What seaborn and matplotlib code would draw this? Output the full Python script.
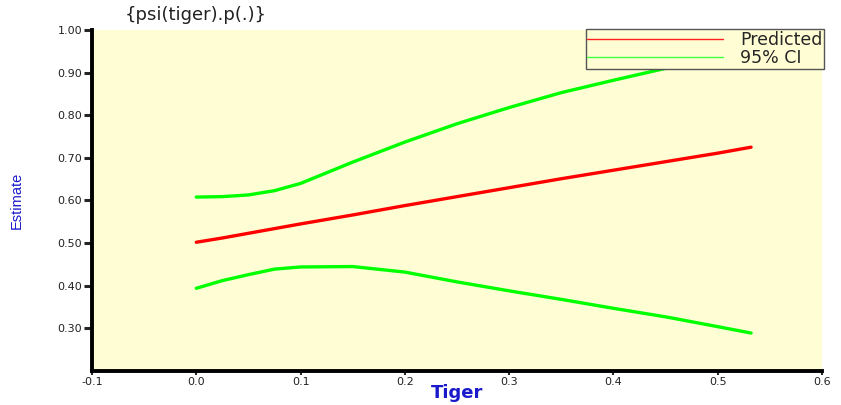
import matplotlib
matplotlib.use('Agg')
import matplotlib.pyplot as plt
from matplotlib.lines import Line2D
import pandas as pd
import seaborn as sns

# values
tiger = [0.0, 0.025, 0.05, 0.075, 0.1, 0.15, 0.2, 0.25, 0.3, 0.35, 0.4, 0.45, 0.5, 0.532]
predicted = [0.502, 0.512, 0.523, 0.534, 0.545, 0.566, 0.588, 0.609, 0.630, 0.651, 0.671, 0.691, 0.711, 0.725]
ci_upper = [0.608, 0.609, 0.613, 0.623, 0.640, 0.690, 0.737, 0.780, 0.818, 0.853, 0.882, 0.910, 0.932, 0.944]
ci_lower = [0.394, 0.412, 0.426, 0.439, 0.444, 0.445, 0.432, 0.409, 0.388, 0.368, 0.347, 0.327, 0.304, 0.289]

x_ticks = [-0.1, 0.0, 0.1, 0.2, 0.3, 0.4, 0.5, 0.6]
y_ticks = [0.3, 0.4, 0.5, 0.6, 0.7, 0.8, 0.9, 1.0]

df = pd.DataFrame({'Tiger': tiger, 'Predicted': predicted,
                   'Upper': ci_upper, 'Lower': ci_lower})

sns.set_style('white')
plt.rcParams['font.family'] = ['DejaVu Sans']

bg = '#FEFDD3'
fig = plt.figure(figsize=(8.41, 4.05), dpi=100)
ax = fig.add_axes([0.1094, 0.084, 0.868, 0.842])
ax.set_facecolor(bg)

sns.lineplot(data=df, x='Tiger', y='Upper', color='#00FF00', lw=2.4, ax=ax)
sns.lineplot(data=df, x='Tiger', y='Lower', color='#00FF00', lw=2.4, ax=ax)
sns.lineplot(data=df, x='Tiger', y='Predicted', color='#FF0000', lw=2.4, ax=ax)

ax.set_xlim(-0.1, 0.6)
ax.set_ylim(0.2, 1.0)
ax.set_xticks(x_ticks)
ax.set_xticklabels([f'{v:.1f}' for v in x_ticks])
ax.set_yticks(y_ticks)
ax.set_yticklabels([f'{v:.2f}' for v in y_ticks])
ax.tick_params(axis='y', direction='out', length=6, width=2.2,
               labelsize=8, labelcolor='#222222', pad=1, left=True)
ax.tick_params(axis='x', direction='out', length=3, width=1.5,
               labelsize=8, labelcolor='#222222', pad=1, bottom=True)

for s in ['top', 'right']:
    ax.spines[s].set_visible(False)
for s in ['left', 'bottom']:
    ax.spines[s].set_linewidth(2.8)
    ax.spines[s].set_color('black')

ax.set_xlabel('Tiger', color='#1a1acc', fontsize=13, fontweight='bold', va='center')
ax.xaxis.set_label_coords(0.5, -0.066)
ax.set_ylabel('Estimate', color='#1a1acc', fontsize=10.5, va='center',
              family='Liberation Sans')
ax.yaxis.set_label_coords(-0.103, 0.5)

fig.text(0.233, 0.962, '{psi(tiger).p(.)}', fontsize=13, color='#222222',
         ha='center', va='center')

handles = [Line2D([0], [0], color='#FF2020', lw=1),
           Line2D([0], [0], color='#40FF40', lw=1)]
leg = ax.legend(handles, ['Predicted', '95% CI'], loc='upper right',
                bbox_to_anchor=(0.98, 0.928), bbox_transform=fig.transFigure,
                fontsize=12.5, frameon=True, fancybox=False, handlelength=7.8,
                borderpad=0.1, labelspacing=0.0, handletextpad=1.0,
                borderaxespad=0)
leg.get_frame().set_facecolor(bg)
leg.get_frame().set_edgecolor('#555555')
leg.get_frame().set_alpha(1)
leg.get_frame().set_linewidth(1)

fig.savefig('out.png', dpi=100)
